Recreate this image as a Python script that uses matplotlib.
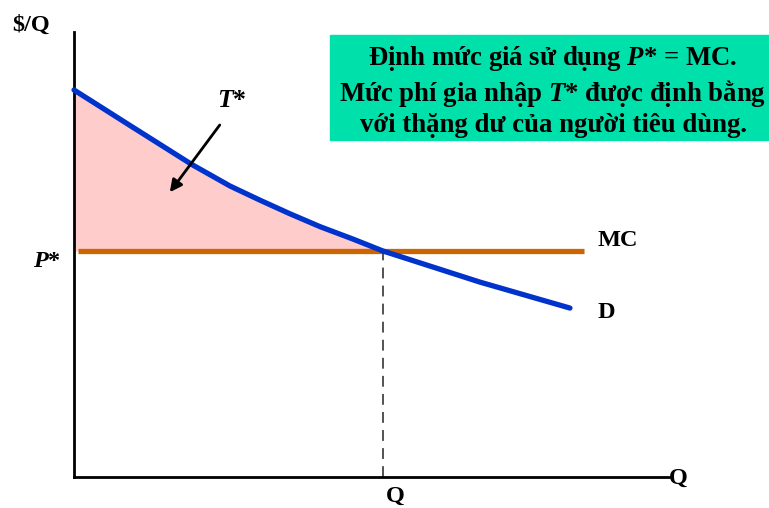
import matplotlib
matplotlib.use("Agg")
import matplotlib.pyplot as plt
import numpy as np
from matplotlib.patches import Rectangle

plt.rcParams['font.family'] = ['Liberation Serif', 'DejaVu Serif']
plt.rcParams['font.weight'] = 'bold'
plt.rcParams['mathtext.fontset'] = 'custom'
plt.rcParams['mathtext.it'] = 'Liberation Serif:italic:bold'
plt.rcParams['mathtext.rm'] = 'Liberation Serif:bold'

# demand curve (quantity, price)
demand_q = [0, 1.09, 2.29, 3.03, 3.61, 4.19, 4.78, 5.42, 6.0, 7.88, 9.63]
demand_p = [6.85, 6.22, 5.53, 5.15, 4.90, 4.66, 4.43, 4.21, 4.0, 3.45, 2.99]

# marginal cost = usage price P*
p_star = 4.0
q_star = 6.0
mc_q = [0.08, 9.9]

# axis extents
q_axis_end = 11.55
p_axis_end = 7.88

W, H = 769, 508
x0, y0 = 74, 477          # origin in pixels
sx, sy = 51.5, 56.5       # pixels per unit

fig = plt.figure(figsize=(W / 100, H / 100), dpi=100)
ax = fig.add_axes([0, 0, 1, 1])
ax.set_xlim(-x0 / sx, (W - x0) / sx)
ax.set_ylim(-(H - y0) / sy, y0 / sy)
ax.axis('off')

# consumer surplus = entry fee T*
dq = np.array(demand_q)
dp = np.array(demand_p)
mask = dq <= q_star
ax.fill_between(dq[mask], dp[mask], p_star, color='#FFCCCC', lw=0, zorder=1)

# axes
ax.plot([0, q_axis_end], [0, 0], color='black', lw=2, zorder=3)
ax.plot([0, 0], [0, p_axis_end], color='black', lw=2, zorder=3)

ax.plot(mc_q, [p_star, p_star], color='#CC6600', lw=3.8, solid_capstyle='butt', zorder=2)
ax.plot([q_star, q_star], [0, p_star], color='#444444', lw=1.3, dashes=(6, 4), zorder=2)
ax.plot(demand_q, demand_p, color='#0033CC', lw=3.8, solid_capstyle='round',
        solid_joinstyle='round', zorder=4)

fs = 17.5
ax.text(-1.2, 8.0, '$/Q', fontsize=fs, ha='left', va='center')
ax.text(-0.52, 3.82, '$P$*', fontsize=fs, ha='center', va='center')
ax.text(10.16, 4.19, 'MC', fontsize=fs, ha='left', va='center')
ax.text(10.16, 2.92, 'D', fontsize=fs, ha='left', va='center')
ax.text(q_axis_end, -0.02, 'Q', fontsize=fs, ha='left', va='center')
ax.text(6.23, -0.35, 'Q', fontsize=fs, ha='center', va='center')

ax.annotate('', xy=(1.86, 5.04), xytext=(2.83, 6.23),
            arrowprops=dict(arrowstyle='-|>', color='black', lw=2, mutation_scale=18,
                            shrinkA=0, shrinkB=0), zorder=5)
ax.text(3.07, 6.67, '$T$*', fontsize=18.5, ha='center', va='center')

# note box
fig.patches.append(Rectangle((330 / W, 1 - 140 / H), 440 / W, 105 / H,
                             transform=fig.transFigure, color='#00E0AA', zorder=0))
note = ('Định mức giá sử dụng $P$* = MC.\n'
        'Mức phí gia nhập $T$* được định bằng\n'
        'với thặng dư của người tiêu dùng.')
fig.text(553 / W, 1 - 91 / H, note, fontsize=19.3, ha='center', va='center',
         linespacing=1.2)

fig.savefig('out.png', dpi=100)
